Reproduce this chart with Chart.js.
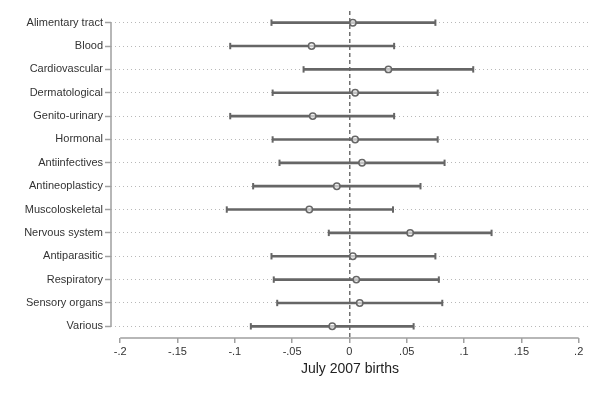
<!DOCTYPE html>
<html>
<head>
<meta charset="utf-8">
<script src="https://cdn.jsdelivr.net/npm/chart.js@4/dist/chart.umd.min.js"></script>
<style>
  body { margin: 0; background: #fff; }
  #wrap { width: 601px; height: 396px; }
</style>
</head>
<body>
<div id="wrap"><canvas id="coefChart"></canvas></div>
<script>
// Categorias (de cima para baixo)
var categorias = ['Alimentary tract', 'Blood', 'Cardiovascular', 'Dermatological', 'Genito-urinary',
    'Hormonal', 'Antiinfectives', 'Antineoplasticy', 'Muscoloskeletal', 'Nervous system',
    'Antiparasitic', 'Respiratory', 'Sensory organs', 'Various'];

// Estimativas pontuais
var estimativas = [0.003, -0.033, 0.034, 0.005, -0.032, 0.005, 0.011, -0.011, -0.035, 0.053,
    0.003, 0.006, 0.009, -0.015];

// Limites inferiores e superiores do intervalo
var limiteInf = [-0.068, -0.104, -0.040, -0.067, -0.104, -0.067, -0.061, -0.084, -0.107, -0.018,
    -0.068, -0.066, -0.063, -0.086];
var limiteSup = [0.075, 0.039, 0.108, 0.077, 0.039, 0.077, 0.083, 0.062, 0.038, 0.124,
    0.075, 0.078, 0.081, 0.056];

// Marcas do eixo x
var ticksX = [-0.2, -0.15, -0.1, -0.05, 0, 0.05, 0.1, 0.15, 0.2];

var cinza = '#666666';

function fmtTick(v) {
    if (v === 0) return '0';
    return v.toFixed(2).replace(/0$/, '').replace(/^(-?)0\./, '$1.');
}

// Linhas dos eixos no estilo Stata (só entre o primeiro e o último valor)
var eixosPlugin = {
    id: 'eixos',
    beforeDatasetsDraw: function(chart) {
        var ctx = chart.ctx;
        var x = chart.scales.x, y = chart.scales.y;
        ctx.save();
        ctx.strokeStyle = '#a0a0a0';
        ctx.lineWidth = 1.5;
        ctx.beginPath();
        ctx.moveTo(y.right, y.getPixelForValue(0));
        ctx.lineTo(y.right, y.getPixelForValue(categorias.length - 1));
        ctx.moveTo(x.getPixelForValue(ticksX[0]), x.top);
        ctx.lineTo(x.getPixelForValue(ticksX[ticksX.length - 1]), x.top);
        ctx.stroke();
        ctx.restore();
    }
};

var ctx = document.getElementById('coefChart').getContext('2d');
new Chart(ctx, {
    type: 'bar',
    data: {
        labels: categorias,
        datasets: [{
            type: 'scatter',
            data: estimativas.map(function(v, i) { return { x: v, y: categorias[i] }; }),
            pointStyle: 'circle',
            pointRadius: 3.2,
            pointBorderWidth: 1.5,
            pointBorderColor: cinza,
            pointBackgroundColor: 'rgba(255,255,255,0.6)',
            order: 0
        }, {
            type: 'scatter',
            data: limiteInf.map(function(v, i) { return { x: v, y: categorias[i] }; }),
            pointStyle: 'line',
            rotation: 90,
            pointRadius: 3.2,
            pointBorderWidth: 2,
            pointBorderColor: cinza,
            order: 1
        }, {
            type: 'scatter',
            data: limiteSup.map(function(v, i) { return { x: v, y: categorias[i] }; }),
            pointStyle: 'line',
            rotation: 90,
            pointRadius: 3.2,
            pointBorderWidth: 2,
            pointBorderColor: cinza,
            order: 1
        }, {
            type: 'bar',
            data: limiteInf.map(function(v, i) { return [v, limiteSup[i]]; }),
            backgroundColor: cinza,
            barThickness: 2,
            borderSkipped: false,
            order: 2
        }]
    },
    options: {
        indexAxis: 'y',
        responsive: true,
        maintainAspectRatio: false,
        animation: false,
        layout: { padding: { top: 11, right: 12, left: 0, bottom: 18 } },
        plugins: {
            legend: { display: false },
            tooltip: { enabled: false }
        },
        scales: {
            x: {
                type: 'linear',
                min: -0.208,
                max: 0.209,
                afterBuildTicks: function(scale) {
                    scale.ticks = ticksX.map(function(v) { return { value: v }; });
                },
                afterFit: function(scale) { scale.height = 40; },
                border: { display: false, dash: [4, 3] },
                grid: {
                    drawOnChartArea: true,
                    color: function(c) { return c.tick && c.tick.value === 0 ? '#707070' : 'rgba(0,0,0,0)'; },
                    lineWidth: 1.5,
                    tickColor: '#a0a0a0',
                    tickBorderDash: [],
                    tickWidth: 1.5,
                    tickLength: 5
                },
                ticks: {
                    color: '#333',
                    font: { family: 'Liberation Sans, Arial', size: 11 },
                    padding: 2,
                    maxRotation: 0,
                    callback: function(v) { return fmtTick(v); }
                },
                title: {
                    display: true,
                    text: 'July 2007 births',
                    color: '#222',
                    font: { family: 'Liberation Sans, Arial', size: 14 },
                    padding: { top: 0, bottom: 0 }
                }
            },
            y: {
                type: 'category',
                offset: true,
                afterFit: function(scale) { scale.width = 111; },
                border: { display: false, dash: [1, 3] },
                grid: {
                    offset: false,
                    color: '#b8b8b8',
                    lineWidth: 1,
                    tickColor: '#a0a0a0',
                    tickBorderDash: [],
                    tickWidth: 1.5,
                    tickLength: 6
                },
                ticks: {
                    color: '#333',
                    font: { family: 'Liberation Sans, Arial', size: 11 },
                    padding: 2
                }
            }
        }
    },
    plugins: [eixosPlugin]
});
</script>
</body>
</html>
